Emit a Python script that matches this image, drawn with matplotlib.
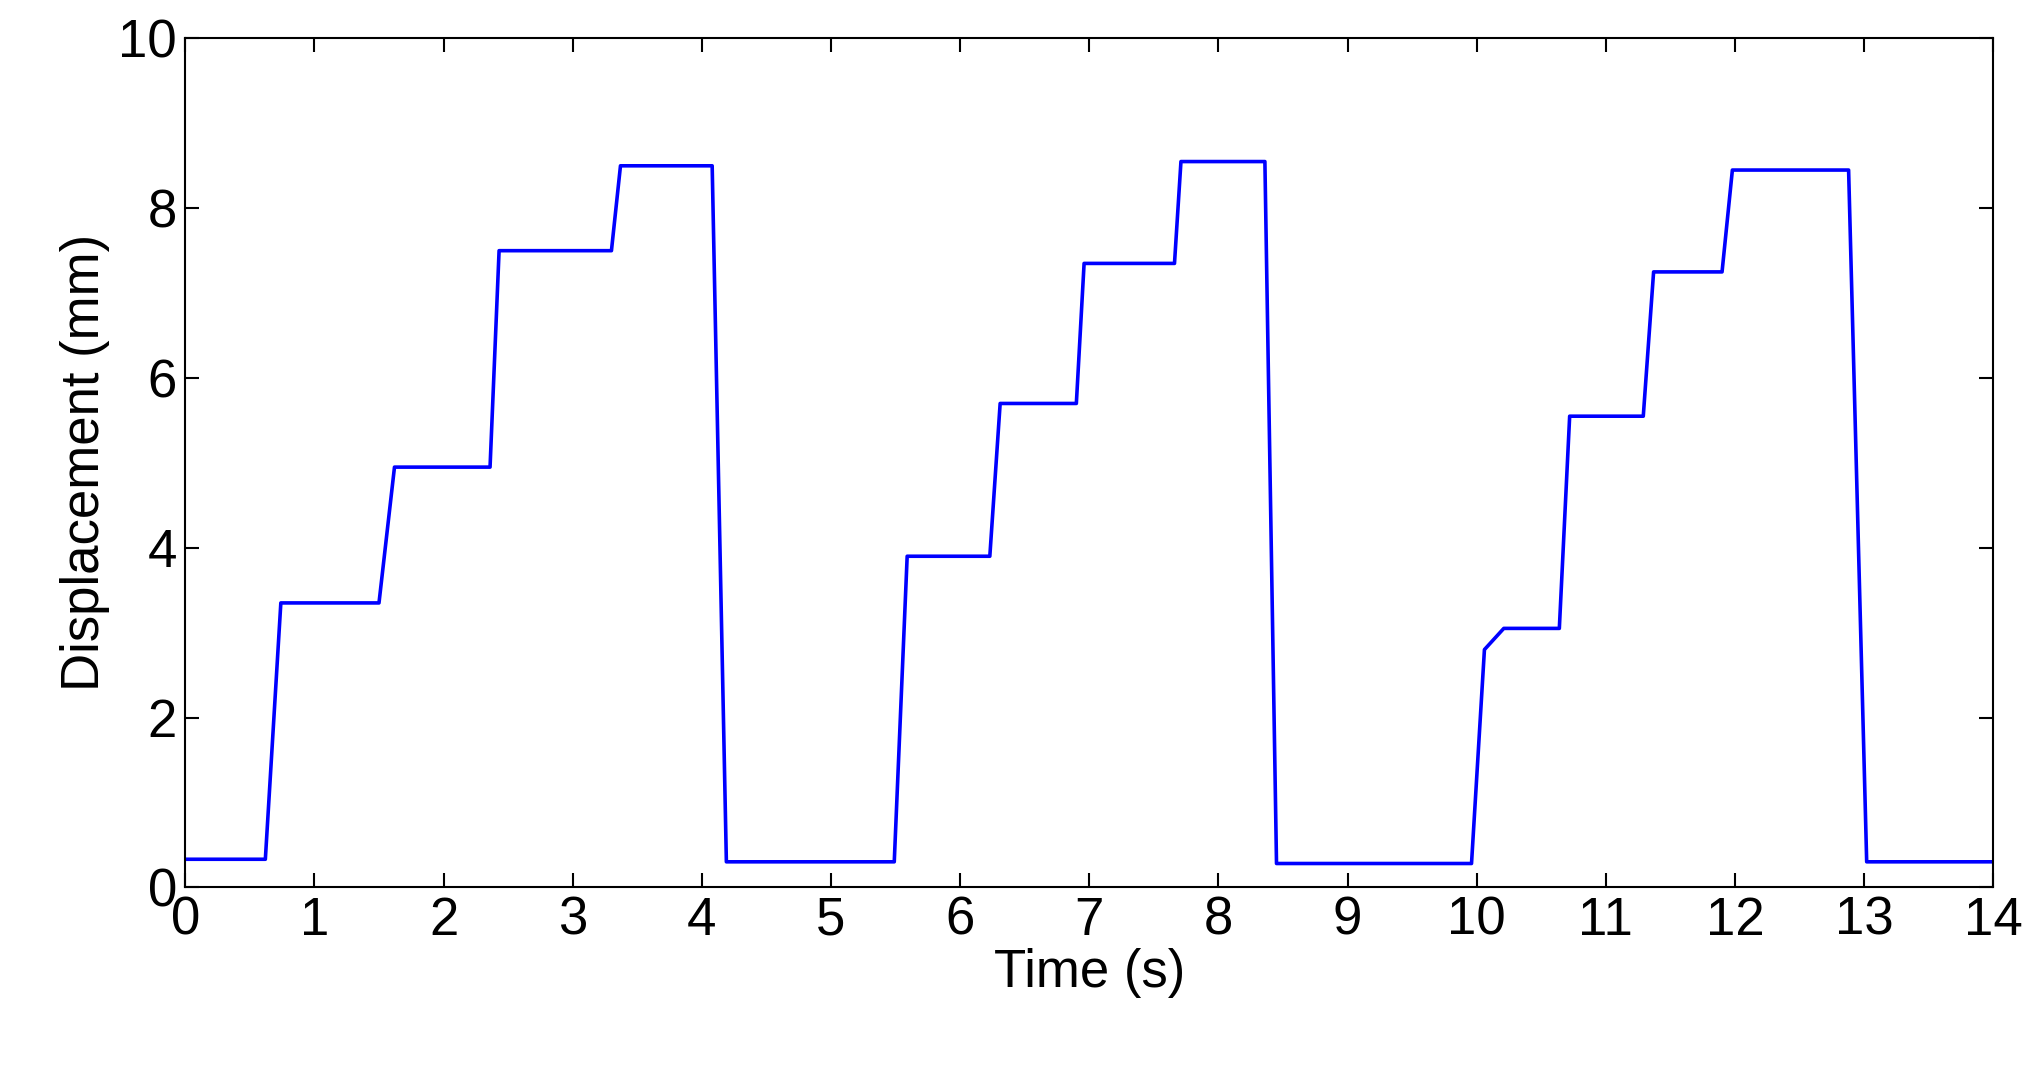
import matplotlib
matplotlib.use("Agg")
import matplotlib.pyplot as plt

time_s = [0, 0.62, 0.74, 1.5, 1.62, 2.36, 2.43, 3.3, 3.37, 4.08, 4.19, 5.49, 5.59, 6.23, 6.31,
          6.9, 6.96, 7.66, 7.71, 8.36, 8.45, 9.96, 10.06, 10.21, 10.64, 10.72, 11.29, 11.37,
          11.9, 11.98, 12.88, 13.02, 14.0]
disp_mm = [0.33, 0.33, 3.35, 3.35, 4.95, 4.95, 7.5, 7.5, 8.5, 8.5, 0.3, 0.3, 3.9, 3.9, 5.7,
           5.7, 7.35, 7.35, 8.55, 8.55, 0.28, 0.28, 2.8, 3.05, 3.05, 5.55, 5.55, 7.25,
           7.25, 8.45, 8.45, 0.3, 0.3]

plt.rcParams['font.family'] = ['Liberation Sans', 'DejaVu Sans']
fig = plt.figure(figsize=(20.36, 10.69), dpi=100)
ax = fig.add_axes([0.091, 0.170, 0.888, 0.794])
ax.plot(time_s, disp_mm, color='#0000ff', linewidth=2.6)
ax.set_xlim(0, 14)
ax.set_ylim(0, 10)
ax.set_xticks(range(0, 15))
ax.set_yticks(range(0, 11, 2))
ax.tick_params(direction='in', top=True, right=True, labelsize=38, length=10, width=1.5, pad=6)
for s in ax.spines.values():
    s.set_linewidth(1.5)
ax.set_xlabel('Time (s)', fontsize=38, labelpad=2)
ax.set_ylabel('Displacement (mm)', fontsize=38, labelpad=6)
fig.savefig('out.png', dpi=100)
